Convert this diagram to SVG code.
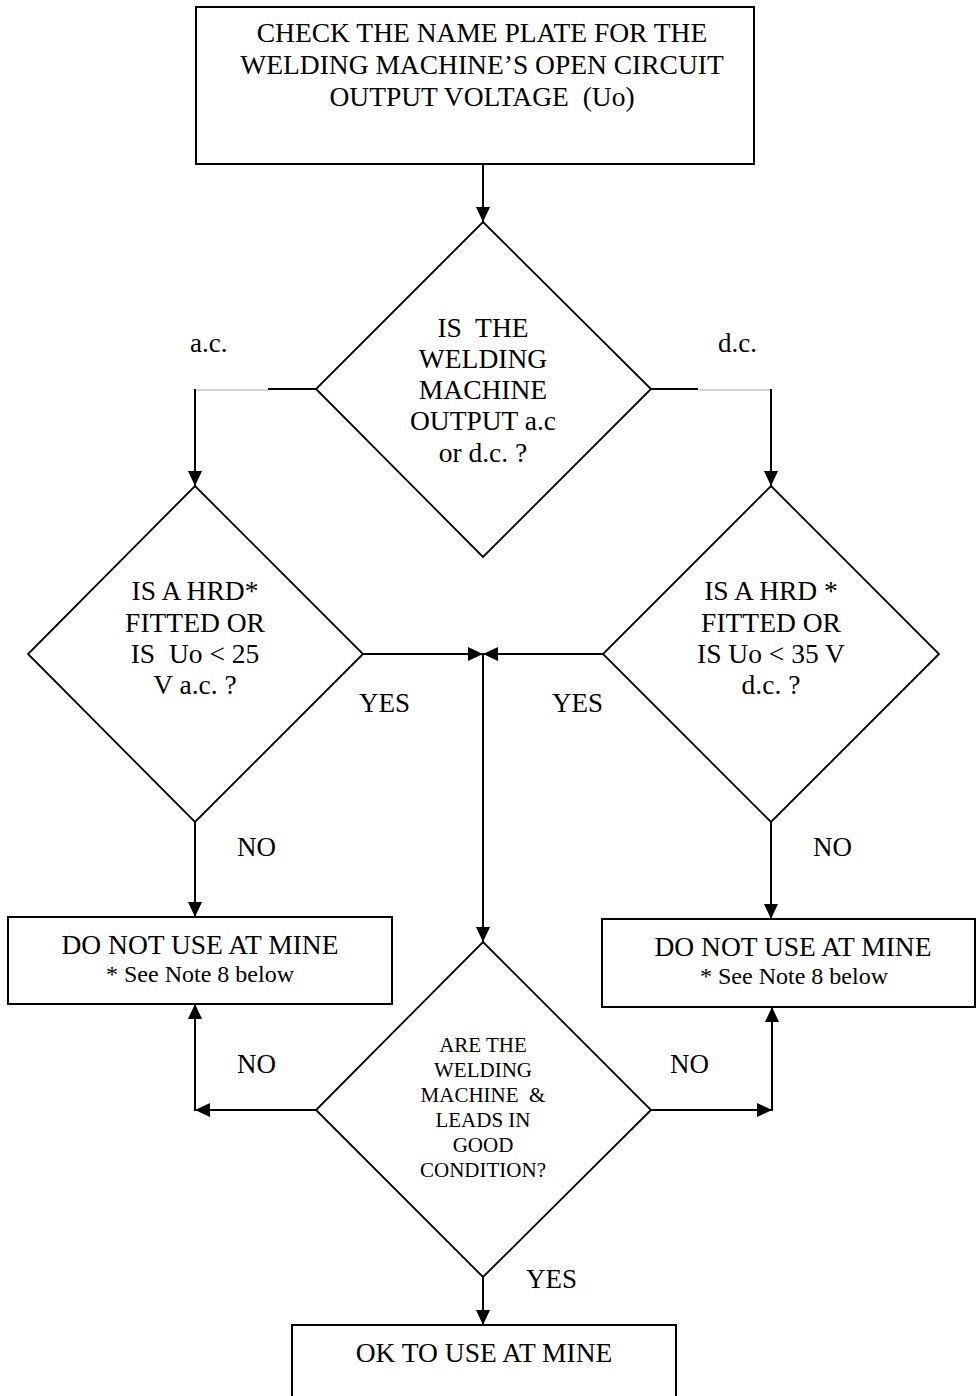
<svg xmlns="http://www.w3.org/2000/svg" width="977" height="1396" viewBox="0 0 977 1396">
<style>
text{font-family:"Liberation Serif","Times New Roman",serif;fill:#000}
.t{font-size:27.5px;text-anchor:middle}
.s{font-size:24px;text-anchor:middle}
.m{font-size:21px;text-anchor:middle}
.l{font-size:27px}
.box{fill:#fff;stroke:#000;stroke-width:2}
.dia{fill:#fff;stroke:#000;stroke-width:1.8}
.c{fill:none;stroke:#000;stroke-width:2}
.g{fill:none;stroke:#aaa;stroke-width:1}
</style>
<defs>
<marker id="ah" markerUnits="userSpaceOnUse" markerWidth="16" markerHeight="16" viewBox="0 0 16 16" refX="15" refY="8" orient="auto">
<path d="M0,1 L15,8 L0,15 Z" fill="#000"/>
</marker>
</defs>
<rect width="977" height="1396" fill="#fff"/>
<g id="connectors">
<line class="c" x1="483" y1="164" x2="483" y2="222" marker-end="url(#ah)"/>
<line class="c" x1="316" y1="389" x2="268" y2="389"/>
<line class="g" x1="268" y1="390" x2="195" y2="390"/>
<line class="c" x1="195" y1="389" x2="195" y2="486" marker-end="url(#ah)"/>
<line class="c" x1="651" y1="389" x2="698" y2="389"/>
<line class="g" x1="698" y1="390" x2="771" y2="390"/>
<line class="c" x1="771" y1="389" x2="771" y2="486" marker-end="url(#ah)"/>
<line class="c" x1="363" y1="654" x2="483" y2="654" marker-end="url(#ah)"/>
<line class="c" x1="603" y1="654" x2="483" y2="654" marker-end="url(#ah)"/>
<line class="c" x1="483" y1="654" x2="483" y2="942" marker-end="url(#ah)"/>
<line class="c" x1="195" y1="822" x2="195" y2="917" marker-end="url(#ah)"/>
<line class="c" x1="771" y1="822" x2="771" y2="919" marker-end="url(#ah)"/>
<line class="c" x1="316" y1="1110" x2="195" y2="1110" marker-end="url(#ah)"/>
<line class="c" x1="195" y1="1111" x2="195" y2="1004" marker-end="url(#ah)"/>
<line class="c" x1="651" y1="1110" x2="772" y2="1110" marker-end="url(#ah)"/>
<line class="c" x1="772" y1="1111" x2="772" y2="1007" marker-end="url(#ah)"/>
<line class="c" x1="483" y1="1277" x2="483" y2="1325" marker-end="url(#ah)"/>
</g>
<g id="labels">
<text class="l" x="190" y="352">a.c.</text>
<text class="l" x="718" y="352">d.c.</text>
<text class="l" x="359" y="712">YES</text>
<text class="l" x="552" y="712">YES</text>
<text class="l" x="237" y="856">NO</text>
<text class="l" x="813" y="856">NO</text>
<text class="l" x="237" y="1073">NO</text>
<text class="l" x="670" y="1073">NO</text>
<text class="l" x="526" y="1288">YES</text>
</g>
<g id="start">
<rect class="box" x="196" y="7" width="558" height="157"/>
<text class="t" x="482" y="42">CHECK THE NAME PLATE FOR THE</text>
<text class="t" x="482" y="74">WELDING MACHINE’S OPEN CIRCUIT</text>
<text class="t" x="482" y="106" xml:space="preserve">OUTPUT VOLTAGE  (Uo)</text>
</g>
<g id="q-output">
<polygon class="dia" points="483,222 651,389 483,557 316,389"/>
<text class="t" x="483" y="337" xml:space="preserve">IS  THE</text>
<text class="t" x="483" y="368">WELDING</text>
<text class="t" x="483" y="399">MACHINE</text>
<text class="t" x="483" y="430">OUTPUT a.c</text>
<text class="t" x="483" y="462">or d.c. ?</text>
</g>
<g id="q-ac">
<polygon class="dia" points="195,486 363,654 195,822 28,654"/>
<text class="t" x="195" y="600">IS A HRD*</text>
<text class="t" x="195" y="632">FITTED OR</text>
<text class="t" x="195" y="663" xml:space="preserve">IS  Uo &lt; 25</text>
<text class="t" x="195" y="694">V a.c. ?</text>
</g>
<g id="q-dc">
<polygon class="dia" points="771,486 939,654 771,822 603,654"/>
<text class="t" x="771" y="600">IS A HRD *</text>
<text class="t" x="771" y="632">FITTED OR</text>
<text class="t" x="771" y="663">IS Uo &lt; 35 V</text>
<text class="t" x="771" y="694">d.c. ?</text>
</g>
<g id="no-left">
<rect class="box" x="8" y="917" width="384" height="87"/>
<text class="t" x="200" y="954">DO NOT USE AT MINE</text>
<text class="s" x="200" y="982">* See Note 8 below</text>
</g>
<g id="no-right">
<rect class="box" x="602" y="919" width="373" height="88"/>
<text class="t" x="793" y="956">DO NOT USE AT MINE</text>
<text class="s" x="794" y="984">* See Note 8 below</text>
</g>
<g id="q-condition">
<polygon class="dia" points="483,942 651,1110 483,1277 316,1110"/>
<text class="m" x="483" y="1052">ARE THE</text>
<text class="m" x="483" y="1077">WELDING</text>
<text class="m" x="483" y="1102" xml:space="preserve">MACHINE  &amp;</text>
<text class="m" x="483" y="1127">LEADS IN</text>
<text class="m" x="483" y="1152">GOOD</text>
<text class="m" x="483" y="1177">CONDITION?</text>
</g>
<g id="ok">
<rect class="box" x="292" y="1325" width="384" height="90"/>
<text class="t" x="484" y="1362">OK TO USE AT MINE</text>
</g>
</svg>
